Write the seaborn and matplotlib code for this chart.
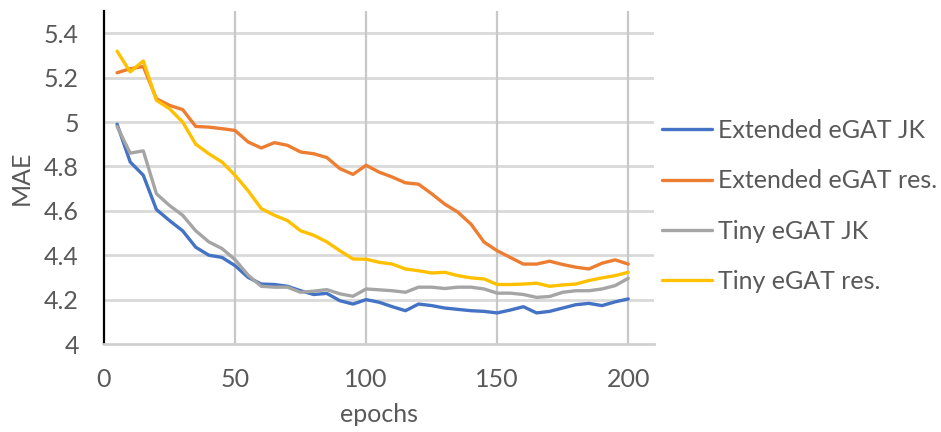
import numpy as np
import pandas as pd
import matplotlib
matplotlib.use("Agg")
import matplotlib.pyplot as plt
import seaborn as sns

# Validation MAE recorded every 5 epochs
epochs = list(range(5, 205, 5))

ext_jk = [4.99, 4.82, 4.76, 4.606, 4.556, 4.51, 4.436, 4.40, 4.39, 4.353,
          4.30, 4.27, 4.268, 4.26, 4.24, 4.223, 4.228, 4.195, 4.18, 4.20,
          4.188, 4.168, 4.15, 4.18, 4.173, 4.162, 4.156, 4.15, 4.147, 4.14,
          4.153, 4.168, 4.14, 4.147, 4.162, 4.177, 4.183, 4.173, 4.19, 4.203]

ext_res = [5.222, 5.24, 5.25, 5.105, 5.075, 5.056, 4.98, 4.977, 4.97, 4.962,
           4.91, 4.883, 4.907, 4.895, 4.865, 4.857, 4.84, 4.79, 4.764, 4.805,
           4.774, 4.752, 4.726, 4.72, 4.677, 4.63, 4.594, 4.54, 4.459, 4.42,
           4.39, 4.36, 4.36, 4.373, 4.358, 4.346, 4.338, 4.364, 4.379, 4.36]

tiny_jk = [4.98, 4.86, 4.87, 4.677, 4.624, 4.58, 4.51, 4.46, 4.43, 4.38,
           4.31, 4.26, 4.256, 4.256, 4.233, 4.238, 4.245, 4.226, 4.215, 4.248,
           4.244, 4.24, 4.233, 4.256, 4.256, 4.25, 4.256, 4.256, 4.248, 4.229,
           4.229, 4.223, 4.21, 4.214, 4.233, 4.24, 4.24, 4.248, 4.263, 4.296]

tiny_res = [5.319, 5.226, 5.275, 5.098, 5.06, 5.0, 4.90, 4.857, 4.82, 4.76,
            4.69, 4.61, 4.58, 4.556, 4.51, 4.49, 4.46, 4.42, 4.383, 4.382,
            4.368, 4.36, 4.338, 4.33, 4.32, 4.323, 4.308, 4.298, 4.293, 4.268,
            4.268, 4.27, 4.274, 4.26, 4.266, 4.27, 4.286, 4.298, 4.308, 4.323]

series_names = ["Extended eGAT JK", "Extended eGAT res.", "Tiny eGAT JK", "Tiny eGAT res."]
series_values = [ext_jk, ext_res, tiny_jk, tiny_res]
colors = ["#4472C4", "#ED7D31", "#A5A5A5", "#FFC000"]

x_ticks = [0, 50, 100, 150, 200]
y_ticks = [4, 4.2, 4.4, 4.6, 4.8, 5, 5.2, 5.4]
y_tick_labels = ["4", "4.2", "4.4", "4.6", "4.8", "5", "5.2", "5.4"]

df = pd.concat(
    [pd.DataFrame({"epochs": epochs, "MAE": vals, "model": name})
     for name, vals in zip(series_names, series_values)],
    ignore_index=True,
)

sns.set_theme(style="white")
plt.rcParams["font.family"] = ["Lato", "DejaVu Sans"]
text_color = "#595959"
fs = 18

fig = plt.figure(figsize=(9.41, 4.32), dpi=100)
ax = fig.add_axes([0.1105, 0.2037, 0.585, 0.7708])

sns.lineplot(data=df, x="epochs", y="MAE", hue="model", hue_order=series_names,
             palette=colors, linewidth=2.4, ax=ax, legend=True)

ax.set_xlim(0, 210)
ax.set_ylim(4, 5.5)
ax.set_xticks(x_ticks)
ax.set_yticks(y_ticks)
ax.set_yticklabels(y_tick_labels)

# Gridlines: horizontal major lines only up to 5.4, vertical full height
for yv in y_ticks[1:]:
    ax.axhline(yv, color="#D9D9D9", linewidth=2.0, zorder=0)
for xv in x_ticks[1:]:
    ax.axvline(xv, color="#C8C8C8", linewidth=1.6, zorder=0)

for side in ["top", "right"]:
    ax.spines[side].set_visible(False)
ax.spines["left"].set_color("#000000")
ax.spines["left"].set_linewidth(1.6)
ax.spines["bottom"].set_color("#D0D0D0")
ax.spines["bottom"].set_linewidth(2.0)

ax.tick_params(axis="both", length=0, labelsize=fs, labelcolor=text_color)
ax.tick_params(axis="y", pad=18)
ax.tick_params(axis="x", pad=17)
ax.set_xlabel("epochs", fontsize=fs, color=text_color, labelpad=9)
ax.set_ylabel("MAE", fontsize=fs, color=text_color, labelpad=8)

handles, labels = ax.get_legend_handles_labels()
ax.get_legend().remove()
leg = fig.legend(handles, labels, loc="center left",
                 bbox_to_anchor=(662 / 941, 1 - 206 / 432), frameon=False,
                 fontsize=fs, handlelength=2.0, handletextpad=0.25,
                 labelspacing=1.09, borderaxespad=0.0, borderpad=0.0)
for txt in leg.get_texts():
    txt.set_color(text_color)
for line in leg.get_lines():
    line.set_linewidth(2.4)

fig.savefig("out.png", dpi=100)
